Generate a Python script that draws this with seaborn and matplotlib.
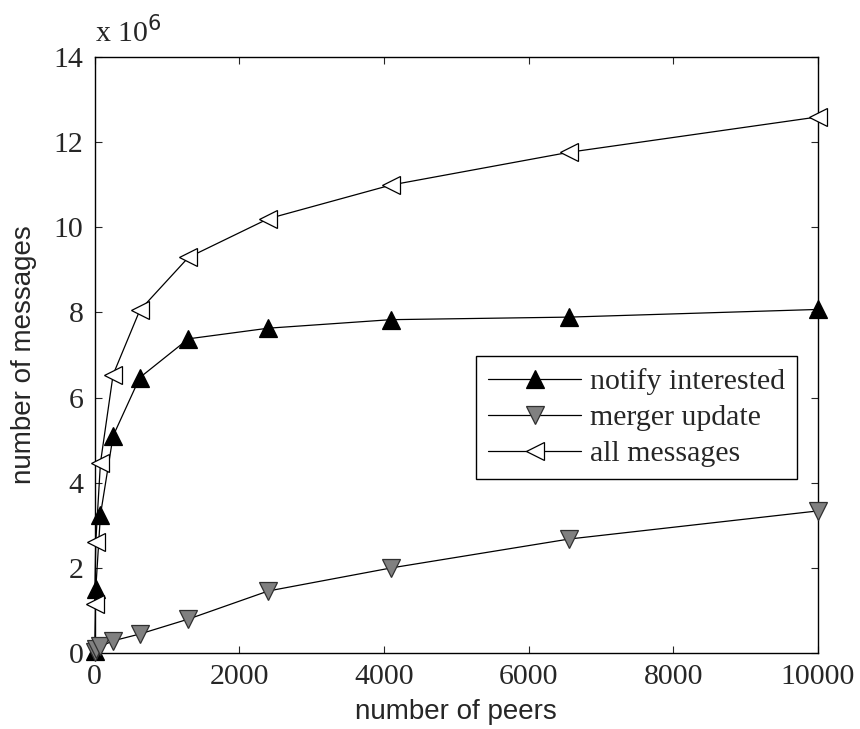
import matplotlib
matplotlib.use("Agg")
import matplotlib.pyplot as plt
import seaborn as sns
import pandas as pd

peers = [1, 16, 81, 256, 625, 1296, 2401, 4096, 6561, 10000]
notify_interested = [0.05, 1.5, 3.25, 5.1, 6.47, 7.38, 7.63, 7.83, 7.89, 8.07]
merger_update = [0.02, 0.09, 0.16, 0.29, 0.45, 0.8, 1.46, 2.0, 2.68, 3.34]
all_messages = [1.15, 2.6, 4.47, 6.54, 8.05, 9.29, 10.2, 10.99, 11.76, 12.59]

series_names = ["notify interested", "merger update", "all messages"]
xticks = [0, 2000, 4000, 6000, 8000, 10000]
yticks = [0, 2, 4, 6, 8, 10, 12, 14]

sns.set_style("ticks")
plt.rcParams["font.family"] = ["Liberation Serif", "DejaVu Serif"]

fig = plt.figure(figsize=(8.6, 7.29), dpi=100)
ax = fig.add_axes([0.110, 0.104, 0.841, 0.818])

styles = [
    dict(marker="^", markerfacecolor="black", markeredgecolor="black"),
    dict(marker="v", markerfacecolor="#808080", markeredgecolor="#303030"),
    dict(marker="<", markerfacecolor="white", markeredgecolor="black"),
]
for name, vals, st in zip(series_names, [notify_interested, merger_update, all_messages], styles):
    df = pd.DataFrame({"peers": peers, "messages": vals})
    sns.lineplot(data=df, x="peers", y="messages", ax=ax, color="black", linewidth=0.9,
                 markersize=13.5, markeredgewidth=0.9, label=name, clip_on=False,
                 zorder=3, **st)

ax.set_xlim(0, 10000)
ax.set_ylim(0, 14)
ax.set_xticks(xticks)
ax.set_yticks(yticks)
ax.set_xticklabels([str(t) for t in xticks], fontsize=21.5)
ax.set_yticklabels([str(t) for t in yticks], fontsize=21.5)
ax.tick_params(direction="in", top=True, right=True, length=5, width=0.8)
ax.tick_params(axis="x", pad=8)
ax.tick_params(axis="y", pad=8)
for s in ax.spines.values():
    s.set_visible(True)
    s.set_linewidth(1.0)
    s.set_color("black")
    s.set_zorder(2)

ax.set_xlabel("number of peers", fontsize=20, family="Liberation Sans", labelpad=6)
ax.set_ylabel("number of messages", fontsize=20, family="Liberation Sans", labelpad=12)
ax.text(0.0, 1.015, "x 10$^{6}$", transform=ax.transAxes, fontsize=21.5, ha="left", va="bottom")

leg = ax.legend(loc="lower right", bbox_to_anchor=(0.971, 0.292), borderaxespad=0,
                fontsize=21.5, frameon=True, fancybox=False, edgecolor="black",
                framealpha=1, handlelength=3.1, borderpad=0.4, labelspacing=0.3,
                handletextpad=0.3)
leg.get_frame().set_linewidth(1.0)
leg.set_zorder(5)

fig.savefig("out.png", dpi=100)
